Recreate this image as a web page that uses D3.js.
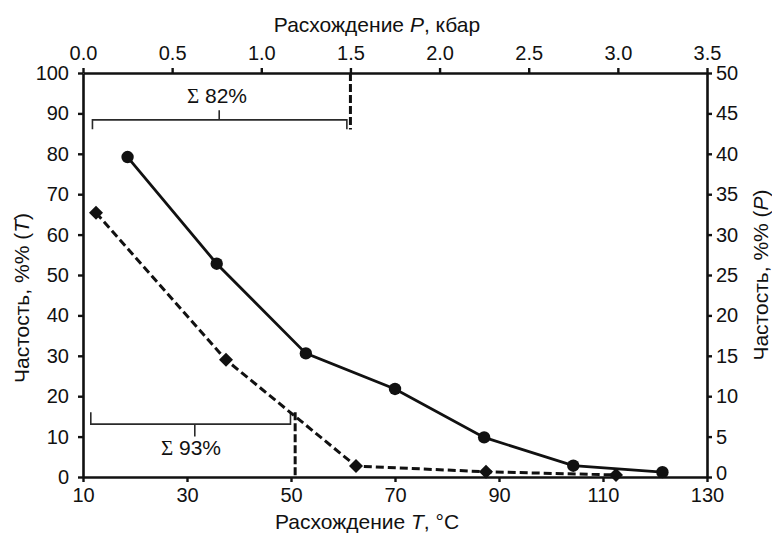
<!DOCTYPE html>
<html><head><meta charset="utf-8">
<script src="https://cdn.jsdelivr.net/npm/d3@7"></script>
<style>
html,body{margin:0;padding:0;background:#fff;}
svg{display:block;font-family:"Liberation Sans",Arial,sans-serif;}
</style></head>
<body>
<svg id="chart" width="772" height="536"></svg>
<script>
// ---- data ----
const pCenters = [0.25, 0.75, 1.25, 1.75, 2.25, 2.75, 3.25];   // kbar
const pFreq    = [39.6, 26.4, 15.3, 10.9, 4.9, 1.4, 0.6];      // %% (P), right axis
const tCenters = [12.5, 37.5, 62.5, 87.5, 112.5];               // °C
const tFreq    = [65.4, 29.0, 2.7, 1.3, 0.5];                   // %% (T), left axis
const tTicks = [10, 30, 50, 70, 90, 110, 130];
const pTicks = [0, 0.5, 1.0, 1.5, 2.0, 2.5, 3.0, 3.5];
const leftTicks = [0,10,20,30,40,50,60,70,80,90,100];
const rightTicks = [0,5,10,15,20,25,30,35,40,45,50];
const pCut = 1.5, pSumLabel = "82%";
const tCut = 50.8, tSumLabel = "93%";

const svg = d3.select("#chart");
const L = 83, R = 707, T = 73, B = 477;
const ink = "#111";
const FS = "20px", TFS = "21px";
const xT = d3.scaleLinear().domain([10,130]).range([L,R]);
const xP = d3.scaleLinear().domain([0,3.5]).range([L,R]);
const yL = d3.scaleLinear().domain([0,100]).range([B,T]);
const yR = d3.scaleLinear().domain([0,50]).range([B,T]);

function styleAxis(g){
  g.selectAll("path.domain").attr("stroke", ink).attr("stroke-width", 2.6);
  g.selectAll(".tick line").attr("stroke", ink).attr("stroke-width", 2.4);
  g.selectAll(".tick text").attr("fill", ink).style("font-size",FS)
    .style("font-family","'Liberation Sans',Arial,sans-serif");
}
const gB = svg.append("g").attr("transform",`translate(0,${B})`)
  .call(d3.axisBottom(xT).tickValues(tTicks).tickSize(5).tickPadding(6).tickSizeOuter(0).tickFormat(d3.format("d")));
styleAxis(gB);
const gTop = svg.append("g").attr("transform",`translate(0,${T})`)
  .call(d3.axisTop(xP).tickValues(pTicks).tickSize(5).tickPadding(8).tickSizeOuter(0).tickFormat(d3.format(".1f")));
styleAxis(gTop);
const gL = svg.append("g").attr("transform",`translate(${L},0)`)
  .call(d3.axisLeft(yL).tickValues(leftTicks).tickSize(5).tickPadding(9).tickSizeOuter(0).tickFormat(d3.format("d")));
styleAxis(gL);
const gR = svg.append("g").attr("transform",`translate(${R},0)`)
  .call(d3.axisRight(yR).tickValues(rightTicks).tickSize(5).tickPadding(4).tickSizeOuter(0).tickFormat(d3.format("d")));
styleAxis(gR);
// keep the right-hand "0" clear of the bottom "130"
gR.selectAll(".tick text").filter(d=>d===0).attr("dy","0.12em");

// axis titles
function title(x,y,rot,parts){
  const t = svg.append("text").attr("fill",ink).style("font-size",TFS)
    .attr("text-anchor","middle")
    .attr("transform",`translate(${x},${y}) rotate(${rot})`);
  parts.forEach(p=>t.append("tspan").text(p[0]).style("font-style",p[1]?"italic":"normal"));
}
title(377, 32, 0, [["Расхождение ",0],["P",1],[", кбар",0]]);
title(367, 529, 0, [["Расхождение ",0],["T",1],[", °C",0]]);
title(29, 298, -90, [["Частость, %% (",0],["T",1],[")",0]]);
title(768, 275, -90, [["Частость, %% (",0],["P",1],[")",0]]);

// brackets
const brk = svg.append("g").attr("fill","none").attr("stroke","#2a2a2a").attr("stroke-width",1.6);
const upY = yL(88.4), upEnd = yL(86.1), upTick = yL(90.8);
const upA = xP(0.053), upB = xP(1.48), upC = xP(0.764);
brk.append("path").attr("d",`M${upA},${upEnd}V${upY}H${upB}V${upEnd}M${upC},${upY}V${upTick}`);
const loY = yL(13.1), loEnd = yL(16.0), loTick = yL(10.0);
const loA = xT(11.5), loB = xT(49.9), loC = xT(31.5);
brk.append("path").attr("d",`M${loA},${loEnd}V${loY}H${loB}V${loEnd}M${loC},${loY}V${loTick}`);

function sumLabel(x,y,val){
  const t = svg.append("text").attr("x",x).attr("y",y).attr("text-anchor","middle")
    .attr("fill",ink).style("font-size",TFS);
  t.append("tspan").text("Σ").style("font-family","'Liberation Serif','Times New Roman',serif");
  t.append("tspan").text(" "+val);
}
sumLabel(217, 103, pSumLabel);
sumLabel(191, 455, tSumLabel);

// dashed cut lines
const cut = svg.append("g").attr("stroke",ink).attr("stroke-width",3).attr("stroke-dasharray","8,3");
cut.append("line").attr("x1",xP(pCut)).attr("x2",xP(pCut)).attr("y1",yL(100)).attr("y2",yL(86.0));
cut.append("line").attr("x1",xT(tCut)).attr("x2",xT(tCut)).attr("y1",yL(16.0)).attr("y2",yL(0));

// T series (dashed, diamonds)
const tData = tCenters.map((c,i)=>({x:c,y:tFreq[i]}));
svg.append("path").datum(tData).attr("fill","none").attr("stroke",ink).attr("stroke-width",3)
  .attr("stroke-dasharray","8,4")
  .attr("d",d3.line().x(d=>xT(d.x)).y(d=>yL(d.y)));
svg.append("g").selectAll("path").data(tData).join("path")
  .attr("transform",d=>`translate(${xT(d.x)},${yL(d.y)})`)
  .attr("d","M0,-7L7,0L0,7L-7,0Z").attr("fill",ink);

// P series (solid, circles)
const pData = pCenters.map((c,i)=>({x:c,y:pFreq[i]}));
svg.append("path").datum(pData).attr("fill","none").attr("stroke",ink).attr("stroke-width",2.8)
  .attr("d",d3.line().x(d=>xP(d.x)).y(d=>yR(d.y)));
svg.append("g").selectAll("circle").data(pData).join("circle")
  .attr("cx",d=>xP(d.x)).attr("cy",d=>yR(d.y)).attr("r",6.2).attr("fill",ink);
</script>
</body></html>
